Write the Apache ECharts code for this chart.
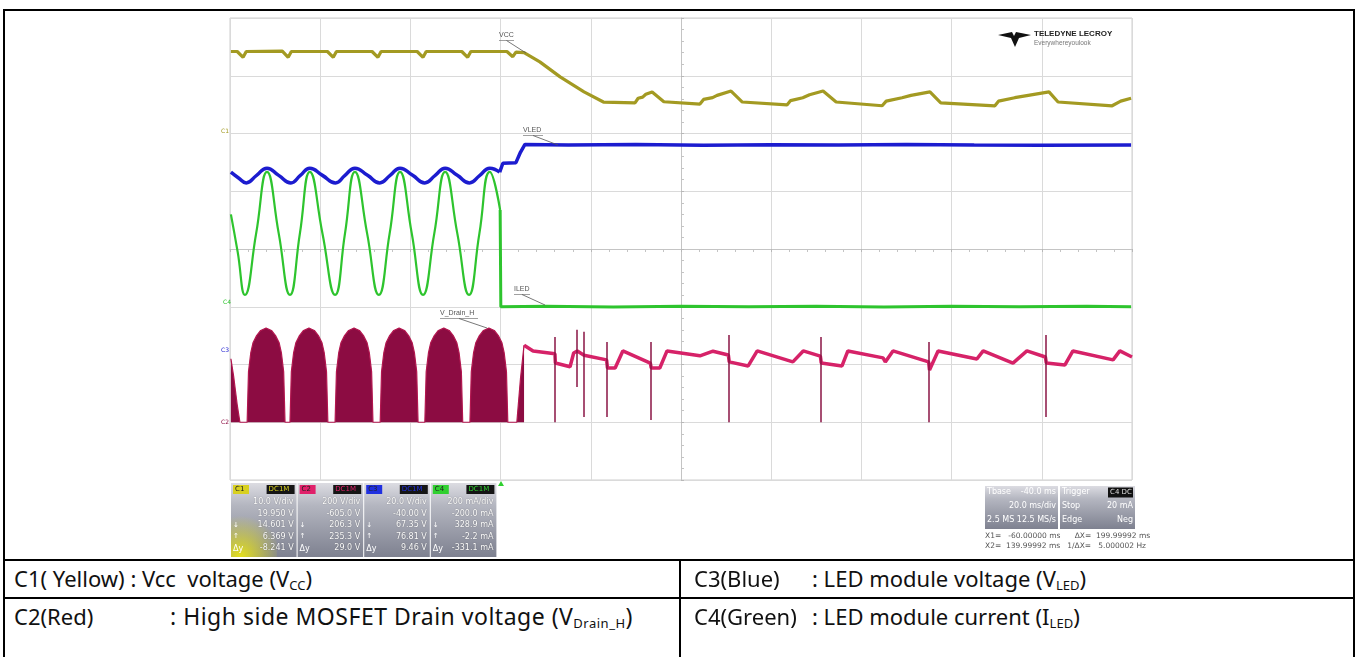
<!DOCTYPE html>
<html><head><meta charset="utf-8">
<script src="https://cdn.jsdelivr.net/npm/echarts/dist/echarts.min.js"></script>
<style>
html,body{margin:0;padding:0;background:#fff;width:1358px;height:657px;overflow:hidden;}
#chart{position:absolute;left:0;top:0;width:1358px;height:560px;}
.ln{position:absolute;background:#000;}
.tx{position:absolute;font-family:"Noto Sans",sans-serif;font-size:22px;color:#111;white-space:pre;line-height:26px;}
.sb{font-size:13px;position:relative;top:3px;}
</style></head>
<body>
<div id="chart"></div>
<div class="ln" style="left:3px;top:9px;width:1352px;height:2px"></div>
<div class="ln" style="left:3px;top:9px;width:2px;height:660px"></div>
<div class="ln" style="left:1353px;top:9px;width:2px;height:660px"></div>
<div class="ln" style="left:3px;top:559px;width:1352px;height:2px"></div>
<div class="ln" style="left:3px;top:597px;width:1352px;height:1.5px"></div>
<div class="ln" style="left:679px;top:559px;width:2px;height:110px"></div>
<div class="tx" style="left:14px;top:565px">C1( Yellow) : Vcc  voltage (V<span class="sb">CC</span>)</div>
<div class="tx" style="left:14px;top:603px">C2(Red)</div>
<div class="tx" style="left:170px;top:603px;font-size:23px;letter-spacing:0.5px">: High side MOSFET Drain voltage (V<span class="sb">Drain_H</span>)</div>
<div class="tx" style="left:694px;top:565px">C3(Blue)</div>
<div class="tx" style="left:812px;top:565px">: LED module voltage (V<span class="sb">LED</span>)</div>
<div class="tx" style="left:694px;top:603px">C4(Green)</div>
<div class="tx" style="left:812px;top:603px">: LED module current (I<span class="sb">LED</span>)</div>
<script>
// ---- time axis (ms), 20 ms/div, 10 divisions ----
const timeTicks = [-60, -40, -20, 0, 20, 40, 60, 80, 100, 120, 140];

// ---- C1: Vcc (V), 10 V/div ----
const vccData = [
  [-59.8,14.2],[-58.4,14.2],[-57.1,13.2],[-56.4,14.2],[-48.4,14.25],[-47.1,13.2],[-46.4,14.2],
  [-38.4,14.2],[-37.1,13.2],[-36.4,14.2],[-28.5,14.2],[-27.2,13.2],[-26.5,14.2],
  [-18.5,14.2],[-17.2,13.2],[-16.5,14.2],[-8.6,14.2],[-7.3,13.2],[-6.6,14.2],
  [1.4,14.2],[2.7,13.3],[3.4,14.1],[5.2,14.0],[8.7,12.4],[13.2,9.8],[18.5,7.2],[22.8,5.45],
  [29.8,5.3],[30.5,6.1],[31.5,6.3],[32.2,6.8],[33.6,7.2],[36.2,5.5],[44.2,5.1],
  [45.0,5.9],[47.0,6.2],[48.0,6.6],[51.1,7.35],[53.6,5.45],[63.5,4.95],
  [64.3,5.7],[67.0,6.2],[68.5,6.7],[71.5,7.35],[74.4,5.45],[84.6,4.8],
  [85.5,5.6],[89.0,6.2],[91.0,6.6],[95.2,7.2],[97.6,5.3],[109.6,4.8],
  [110.4,5.6],[114.0,6.2],[117.0,6.6],[121.6,7.2],[123.6,5.45],[135.6,4.8],
  [137.5,5.6],[139.8,6.1]
];

// ---- C2: high side drain voltage (V), 200 V/div ----
const drainEnvelope = [
  [-59.8,220],[-59.2,160],[-58.4,60],[-57.8,0],[-56.2,0],
  [-55.9,175],[-55.4,240],[-54.9,275],[-54.1,300],[-53.2,318],[-52.0,326],[-50.8,318],[-49.9,300],[-49.1,275],[-48.6,240],[-48.1,175],[-47.8,0],[-46.7,0],
  [-46.4,175],[-45.9,240],[-45.4,275],[-44.6,300],[-43.7,318],[-42.5,326],[-41.3,318],[-40.4,300],[-39.6,275],[-39.1,240],[-38.6,175],[-38.3,0],[-36.7,0],
  [-36.4,175],[-35.9,240],[-35.4,275],[-34.6,300],[-33.7,318],[-32.5,326],[-31.3,318],[-30.4,300],[-29.6,275],[-29.1,240],[-28.6,175],[-28.3,0],[-26.7,0],
  [-26.4,175],[-25.9,240],[-25.4,275],[-24.6,300],[-23.7,318],[-22.5,326],[-21.3,318],[-20.4,300],[-19.6,275],[-19.1,240],[-18.6,175],[-18.3,0],[-16.8,0],
  [-16.5,175],[-16.0,240],[-15.5,275],[-14.7,300],[-13.8,318],[-12.6,326],[-11.4,318],[-10.5,300],[-9.7,275],[-9.2,240],[-8.7,175],[-8.4,0],[-6.8,0],
  [-6.5,175],[-6.0,240],[-5.5,275],[-4.7,300],[-3.8,318],[-2.6,326],[-1.4,318],[-0.5,300],[0.3,275],[0.8,240],[1.3,175],[1.6,0],[3.6,0],
  [4.4,150],[5.2,267]
];
const drainLine = [
  [5.2,267],[7.2,247],[12.05,237],[12.15,205],[15.4,192],[16.2,240],[17.0,247],[18.5,232],[23.5,216],[23.7,188],
  [25.4,188],[27.1,247],[33.2,205],[33.4,188],[35.3,188],[36.9,247],[44.2,230],[47.1,246],[50.5,233],[50.7,209],
  [54.9,195],[56.9,247],[64.8,209],[67.1,247],[70.9,229],[71.1,205],[75.7,195],[77.0,247],[84.8,223],[85.3,209],
  [87.0,247],[94.9,209],[95.1,181],[97.0,247],[105.6,219],[107.0,247],[113.6,205],[116.7,247],[120.8,226],[121.0,205],
  [125.1,198],[126.9,247],[135.8,216],[137.3,247],[140,226]
];
// spikes: [time, top V, bottom V]
const drainSpikes = [
  [12.1,295,0],[16.9,320,122],[18.5,313,18],[23.6,278,18],[33.3,278,8],
  [50.6,302,0],[71.0,295,0],[95.0,278,0],[120.9,302,18]
];

// ---- C3: LED voltage (V), 20 V/div ----
const vledPre = [
  [-59.8,66.6],[-58.1,64.6],[-56.4,62.9],[-54.1,65.5],[-51.8,68.0],[-49.2,65.5],[-46.5,62.9],[-44.4,65.5],
  [-42.3,68.0],[-39.5,65.5],[-36.6,62.9],[-34.5,65.5],[-32.3,68.0],[-29.5,65.5],[-26.8,62.9],[-24.5,65.5],
  [-22.3,68.0],[-19.5,65.5],[-16.8,62.9],[-14.5,65.5],[-12.3,68.0],[-9.6,65.5],[-6.9,62.9],[-4.6,65.5],
  [-2.4,68.0],[-0.2,66.6]
];
const vledPost = [
  [-0.2,66.6],[0.5,69.7],[3.4,69.9],[4.4,73.5],[5.4,76.2],[15,76.0],[30,76.2],[45,75.9],[60,76.1],
  [75,76.0],[90,76.2],[105,76.0],[120,75.9],[139.8,76.0]
];

// ---- C4: LED current (mA), 200 mA/div ----
const iledPre = [
  [-59.8,320],[-58.3,190],[-56.7,41],[-54.2,254],[-51.8,467],[-49.2,254],[-46.7,41],[-44.5,254],
  [-42.3,467],[-39.5,254],[-36.7,41],[-34.5,254],[-32.3,467],[-29.6,254],[-27.0,41],[-24.6,254],
  [-22.3,467],[-19.7,254],[-17.2,41],[-14.7,254],[-12.3,467],[-9.6,254],[-7.0,41],[-4.7,254],
  [-2.4,467],[-0.1,335]
];
const iledPost = [
  [-0.1,335],[0.05,0],[10,2],[25,-1],[40,2],[55,0],[70,2],[85,-1],[100,2],[115,0],[130,2],[139.8,0]
];

// channel descriptors
const chanBoxes = [
  {tag:'C1', color:'#d8d020', lines:['10.0 V/div','19.950 V','14.601 V','6.369 V','-8.241 V']},
  {tag:'C2', color:'#e0206a', lines:['200 V/div','-605.0 V','206.3 V','235.3 V','29.0 V']},
  {tag:'C3', color:'#2030e0', lines:['20.0 V/div','-40.00 V','67.35 V','76.81 V','9.46 V']},
  {tag:'C4', color:'#30d030', lines:['200 mA/div','-200.0 mA','328.9 mA','-2.2 mA','-331.1 mA']}
];

const GL = 230, GT = 18, GW = 902, GH = 462;
const cVcc = '#a39a22', cBlue = '#1c1ccf', cGreen = '#2ec42e', cMaroon = '#8c0c42', cPink = '#d62268';

const chart = echarts.init(document.getElementById('chart'), null, {renderer:'canvas'});

function txt(x, y, s, o) {
  return {type:'text', x:x, y:y, silent:true, z:50, style:Object.assign({text:s, fill:'#fff', fontSize:8, fontFamily:'DejaVu Sans', textAlign:'left', textVerticalAlign:'top'}, o||{})};
}
function rect(x, y, w, h, fill, o) {
  return Object.assign({type:'rect', silent:true, z:40, shape:{x:x, y:y, width:w, height:h}, style:{fill:fill}}, o||{});
}
function line(x1, y1, x2, y2, col, w) {
  return {type:'line', silent:true, z:50, shape:{x1:x1, y1:y1, x2:x2, y2:y2}, style:{stroke:col||'#666', lineWidth:w||0.8}};
}

const graphics = [];
const boxGrad = () => new echarts.graphic.LinearGradient(0,0,0,1,[{offset:0,color:'#dcdce2'},{offset:0.3,color:'#b4b6c0'},{offset:1,color:'#7e8190'}]);
chanBoxes.forEach((b, i) => {
  const x = 231 + i*66.6, y = 483, w = 65.6, h = 74;
  graphics.push(rect(x, y, w, h, boxGrad()));
  if (i === 0) {
    graphics.push(rect(x, y+28, w*0.7, h-28, new echarts.graphic.RadialGradient(0.2,1,0.9,[{offset:0,color:'rgba(235,230,20,0.95)'},{offset:1,color:'rgba(235,230,20,0)'}])));
  }
  graphics.push(rect(x+2, y+2, 16, 9, b.color));
  graphics.push(txt(x+4, y+2.5, b.tag, {fill:'#222', fontSize:7}));
  graphics.push(rect(x+w-30, y+2, 28, 9, '#151515'));
  graphics.push(txt(x+w-28, y+2.5, 'DC1M', {fill:b.color, fontSize:7}));
  b.lines.forEach((s, k) => {
    graphics.push(txt(x+w-3, y+15+k*11.5, s, {textAlign:'right', fontSize:8, textShadowColor:'rgba(0,0,0,0.5)', textShadowBlur:1}));
  });
  graphics.push(txt(x+2, y+38.5, '↓', {fontSize:7}));
  graphics.push(txt(x+2, y+50, '↑', {fontSize:7}));
  graphics.push(txt(x+2, y+61.5, 'Δy', {fontSize:8}));
});
graphics.push({type:'polygon', silent:true, z:50, shape:{points:[[498,486],[504,486],[501,481]]}, style:{fill:'#30d030'}});

// timebase / trigger panels
graphics.push(rect(985, 486, 73, 43, boxGrad()));
graphics.push(rect(1060, 486, 75, 43, boxGrad()));
graphics.push(txt(987, 488, 'Tbase', {fontSize:8}));
graphics.push(txt(1056, 488, '-40.0 ms', {fontSize:8, textAlign:'right'}));
graphics.push(txt(1056, 502, '20.0 ms/div', {fontSize:8, textAlign:'right'}));
graphics.push(txt(987, 516, '2.5 MS', {fontSize:8}));
graphics.push(txt(1056, 516, '12.5 MS/s', {fontSize:8, textAlign:'right'}));
graphics.push(txt(1062, 488, 'Trigger', {fontSize:8}));
graphics.push(rect(1108, 487.5, 25, 10, '#111'));
graphics.push(txt(1110, 488.5, 'C4 DC', {fontSize:7, fill:'#ddd'}));
graphics.push(txt(1062, 502, 'Stop', {fontSize:8}));
graphics.push(txt(1133, 502, '20 mA', {fontSize:8, textAlign:'right'}));
graphics.push(txt(1062, 516, 'Edge', {fontSize:8}));
graphics.push(txt(1133, 516, 'Neg', {fontSize:8, textAlign:'right'}));
graphics.push(txt(985, 532, 'X1=   -60.00000 ms      ΔX=  199.99992 ms', {fontSize:7.5, fill:'#555'}));
graphics.push(txt(985, 542, 'X2=  139.99992 ms   1/ΔX=   5.000002 Hz', {fontSize:7.5, fill:'#555'}));

// logo
graphics.push({type:'polygon', silent:true, z:50, shape:{points:[[998,35],[1012,32],[1014,36],[1016,32],[1031,35],[1019,38],[1015,47],[1011,38]]}, style:{fill:'#111'}});
graphics.push(txt(1034, 30, 'TELEDYNE LECROY', {fill:'#222', fontSize:8, fontWeight:'bold', fontFamily:'Liberation Sans'}));
graphics.push(txt(1034, 40, 'Everywhereyoulook', {fill:'#777', fontSize:6.5, fontFamily:'Liberation Sans'}));

// trace annotations
function ann(x, y, s, lx, ly, w) {
  graphics.push(txt(x, y, s, {fill:'#555', fontSize:7, fontFamily:'Liberation Sans'}));
  graphics.push(line(x, y+8.5, x+w, y+8.5, '#777', 0.7));
  graphics.push(line(x+w*0.5, y+8.5, lx, ly, '#555', 0.8));
}
ann(499, 32, 'VCC', 526, 53, 15);
ann(523, 127, 'VLED', 558, 145, 20);
ann(514, 286, 'ILED', 545, 305, 16);
ann(440, 310, 'V_Drain_H', 487, 328, 38);

// channel ground markers on left edge
graphics.push(txt(221, 128, 'C1', {fill:cVcc, fontSize:6}));
graphics.push(txt(223, 299, 'C4', {fill:cGreen, fontSize:6}));
graphics.push(txt(221, 347, 'C3', {fill:cBlue, fontSize:6}));
graphics.push(txt(221, 419, 'C2', {fill:cMaroon, fontSize:6}));

const chanAxis = (min, max) => ({type:'value', min:min, max:max, show:false, splitLine:{show:false}});

const option = {
  animation:false,
  backgroundColor:'#fff',
  grid:{left:GL, top:GT, width:GW, height:GH, show:true, borderColor:'#cfcfcf', borderWidth:1, containLabel:false},
  xAxis:[
    {type:'value', min:timeTicks[0], max:timeTicks[timeTicks.length-1], interval:20,
     axisLine:{show:false}, axisTick:{show:false}, axisLabel:{show:false},
     splitLine:{show:true, lineStyle:{color:'#dadada', width:1}}},
    {type:'value', min:-5, max:5, interval:1,
     axisLine:{show:true, onZero:true, onZeroAxisIndex:0, lineStyle:{color:'#c4c4c4', width:1}},
     axisTick:{show:true, inside:true, length:3, lineStyle:{color:'#b8b8b8'}},
     minorTick:{show:true, splitNumber:5, length:3, lineStyle:{color:'#c4c4c4'}},
     axisLabel:{show:false}, splitLine:{show:false}}
  ],
  yAxis:[
    {type:'value', min:-4, max:4, interval:1,
     axisLine:{show:true, onZero:true, onZeroAxisIndex:1, lineStyle:{color:'#c4c4c4', width:1}},
     axisTick:{show:true, inside:true, length:3, lineStyle:{color:'#b8b8b8'}},
     minorTick:{show:true, splitNumber:5, length:3, lineStyle:{color:'#c4c4c4'}},
     axisLabel:{show:false}, splitLine:{show:true, lineStyle:{color:'#dadada', width:1}}},
    chanAxis(-60, 20),
    chanAxis(-200, 1400),
    chanAxis(-40, 120),
    chanAxis(-600, 1000)
  ],
  series:[
    {name:'C2 env', type:'line', xAxisIndex:0, yAxisIndex:2, data:drainEnvelope, symbol:'none', z:2,
     lineStyle:{color:'#b3164f', width:1.2}, areaStyle:{color:cMaroon, opacity:1}},
    {name:'C2', type:'line', xAxisIndex:0, yAxisIndex:2, data:drainLine, symbol:'none', z:3,
     lineStyle:{color:cPink, width:3.5},
     markLine:{silent:true, symbol:'none', label:{show:false}, animation:false,
       lineStyle:{color:'#8a1444', width:1.5, type:'solid'},
       data:drainSpikes.map(s => [{coord:[s[0], s[1]]}, {coord:[s[0], s[2]]}])}},
    {name:'C1', type:'line', xAxisIndex:0, yAxisIndex:1, data:vccData, symbol:'none', z:4,
     lineStyle:{color:cVcc, width:3.2}},
    {name:'C4a', type:'line', xAxisIndex:0, yAxisIndex:4, data:iledPre, symbol:'none', smooth:0.5, z:5,
     lineStyle:{color:cGreen, width:2.2}},
    {name:'C4b', type:'line', xAxisIndex:0, yAxisIndex:4, data:iledPost, symbol:'none', z:5,
     lineStyle:{color:cGreen, width:3}},
    {name:'C3a', type:'line', xAxisIndex:0, yAxisIndex:3, data:vledPre, symbol:'none', smooth:0.5, z:6,
     lineStyle:{color:cBlue, width:3.5}},
    {name:'C3b', type:'line', xAxisIndex:0, yAxisIndex:3, data:vledPost, symbol:'none', z:6,
     lineStyle:{color:cBlue, width:3.5}}
  ],
  graphic:graphics
};
chart.setOption(option);
</script>
</body></html>
